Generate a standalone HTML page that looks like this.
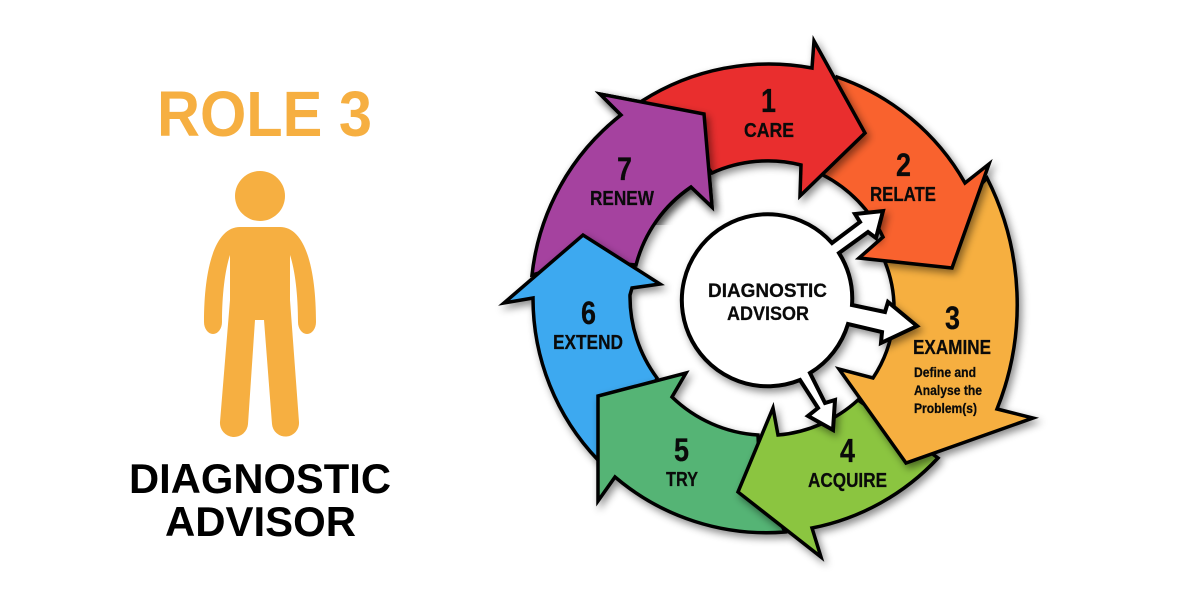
<!DOCTYPE html>
<html>
<head>
<meta charset="utf-8">
<style>
html,body{margin:0;padding:0;background:#fff;width:1200px;height:600px;overflow:hidden}
svg{display:block}
text{font-family:"Liberation Sans",Arial,sans-serif;font-weight:bold;fill:#0a0a0a}
.a{stroke:#000;stroke-width:3.500;stroke-linejoin:miter;stroke-miterlimit:12;filter:url(#s)}
.t text{stroke:#0a0a0a;stroke-width:.25}
</style>
</head>
<body>
<svg width="1200" height="600" viewBox="0 0 1200 600" xmlns="http://www.w3.org/2000/svg">
<defs>
<filter id="s" x="-20%" y="-20%" width="150%" height="150%">
<feDropShadow dx="3" dy="4" stdDeviation="4" flood-color="#000" flood-opacity=".45"/>
</filter>
<clipPath id="top"><rect x="560" y="60" width="200" height="165"/></clipPath>
</defs>
<rect width="1200" height="600" fill="#fff"/>

<!-- left -->
<text x="157" y="136" font-size="64" textLength="215" lengthAdjust="spacingAndGlyphs" style="fill:#F6AF41">ROLE 3</text>
<circle cx="260" cy="196" r="25" fill="#F6AF41"/>
<path fill="#F6AF41" d="M240 227H280C305 227 316 268 316 322A9 12 0 0 1 298 322C298 295 295 270 290 255V300L299 422A13.500 13.500 0 0 1 272 424L264 320H255L248 424A14 14 0 0 1 220 422L230 300V255C225 270 222 295 222 322A9 12 0 0 1 204 322C204 268 215 227 240 227Z"/>
<text x="129" y="493" font-size="42" textLength="262" lengthAdjust="spacingAndGlyphs" style="fill:#000">DIAGNOSTIC</text>
<text x="165" y="536" font-size="42" textLength="191" lengthAdjust="spacingAndGlyphs" style="fill:#000">ADVISOR</text>

<!-- ring -->
<path class="a" fill="#A5429F" d="M621 115L600 94L704 114L712 207L691 187A135 135 0 0 0 636 265L583 260L532 275A236 236 0 0 1 621 115Z"/>
<path class="a" fill="#3DA9F0" d="M533 298L504 303L583 235L660 284L632 288L630 295A136 136 0 0 0 657 378L640 420L598 460A234 234 0 0 1 533 298Z"/>
<path class="a" fill="#55B475" d="M758 435A136 136 0 0 1 672 397L686 373L598 396L598 501L615 477A234 234 0 0 0 785 532L760 480Z"/>
<path class="a" fill="#8BC540" d="M938 458A233 233 0 0 1 812 528L821 557L738 492L773 408L778 435A136 136 0 0 0 858 400L900 430Z"/>
<path class="a" fill="#F6AF41" d="M987 178A280 280 0 0 1 997 409L1033 418L906 463L839 369L873 378A125 125 0 0 0 885 262L930 240Z"/>
<path class="a" fill="#F9622D" d="M837 77A233 233 0 0 1 965 183L989 164L952 268L859 258L883 237A135 135 0 0 0 823 175L820 120Z"/>
<path class="a" fill="#E92F2F" d="M642 101A236 236 0 0 1 812 68L814 41L865 133L800 196L801 165A135 135 0 0 0 712 173L680 130Z"/>
<g clip-path="url(#top)">
<path class="a" fill="#A5429F" d="M621 115L600 94L704 114L712 207L691 187A135 135 0 0 0 636 265L583 260L532 275A236 236 0 0 1 621 115Z"/>
</g>

<!-- center circle with three outgoing arrows, one continuous outline -->
<path fill="#fff" stroke="#000" stroke-width="4" stroke-linejoin="miter" stroke-miterlimit="10" filter="url(#s)" d="M832 243L860 222L855 214L883 211L876 238L868 232L839 253A86 86 0 0 1 852 305L885 312L888 302L917 326L881 343L882 332L848 324A86 86 0 0 1 810 373L825 403L835 400L833 430L808 416L818 408L800 380A86 86 0 1 1 832 243Z"/>
<g class="t">
<text x="708" y="297" font-size="19" textLength="119" lengthAdjust="spacingAndGlyphs">DIAGNOSTIC</text>
<text x="727" y="320" font-size="19" textLength="82" lengthAdjust="spacingAndGlyphs">ADVISOR</text>

<!-- labels -->
<text x="761" y="112" font-size="33" textLength="15" lengthAdjust="spacingAndGlyphs">1</text>
<text x="744" y="137" font-size="20" textLength="50" lengthAdjust="spacingAndGlyphs">CARE</text>
<text x="896" y="176" font-size="32" textLength="15" lengthAdjust="spacingAndGlyphs">2</text>
<text x="870" y="201" font-size="20" textLength="66" lengthAdjust="spacingAndGlyphs">RELATE</text>
<text x="945" y="329" font-size="32" textLength="15" lengthAdjust="spacingAndGlyphs">3</text>
<text x="913" y="354" font-size="20" textLength="78" lengthAdjust="spacingAndGlyphs">EXAMINE</text>
<text x="914" y="377" font-size="13.500" textLength="62" lengthAdjust="spacingAndGlyphs">Define and</text>
<text x="914" y="395" font-size="13.500" textLength="68" lengthAdjust="spacingAndGlyphs">Analyse the</text>
<text x="914" y="413" font-size="13.500" textLength="63" lengthAdjust="spacingAndGlyphs">Problem(s)</text>
<text x="840" y="462" font-size="33" textLength="15" lengthAdjust="spacingAndGlyphs">4</text>
<text x="808" y="487" font-size="20" textLength="79" lengthAdjust="spacingAndGlyphs">ACQUIRE</text>
<text x="674" y="461" font-size="32" textLength="15" lengthAdjust="spacingAndGlyphs">5</text>
<text x="666" y="486" font-size="20" textLength="32" lengthAdjust="spacingAndGlyphs">TRY</text>
<text x="581" y="324" font-size="32" textLength="15" lengthAdjust="spacingAndGlyphs">6</text>
<text x="553" y="349" font-size="20" textLength="70" lengthAdjust="spacingAndGlyphs">EXTEND</text>
<text x="617" y="180" font-size="32" textLength="15" lengthAdjust="spacingAndGlyphs">7</text>
<text x="590" y="205" font-size="20" textLength="64" lengthAdjust="spacingAndGlyphs">RENEW</text>
</g>
</svg>
</body>
</html>
